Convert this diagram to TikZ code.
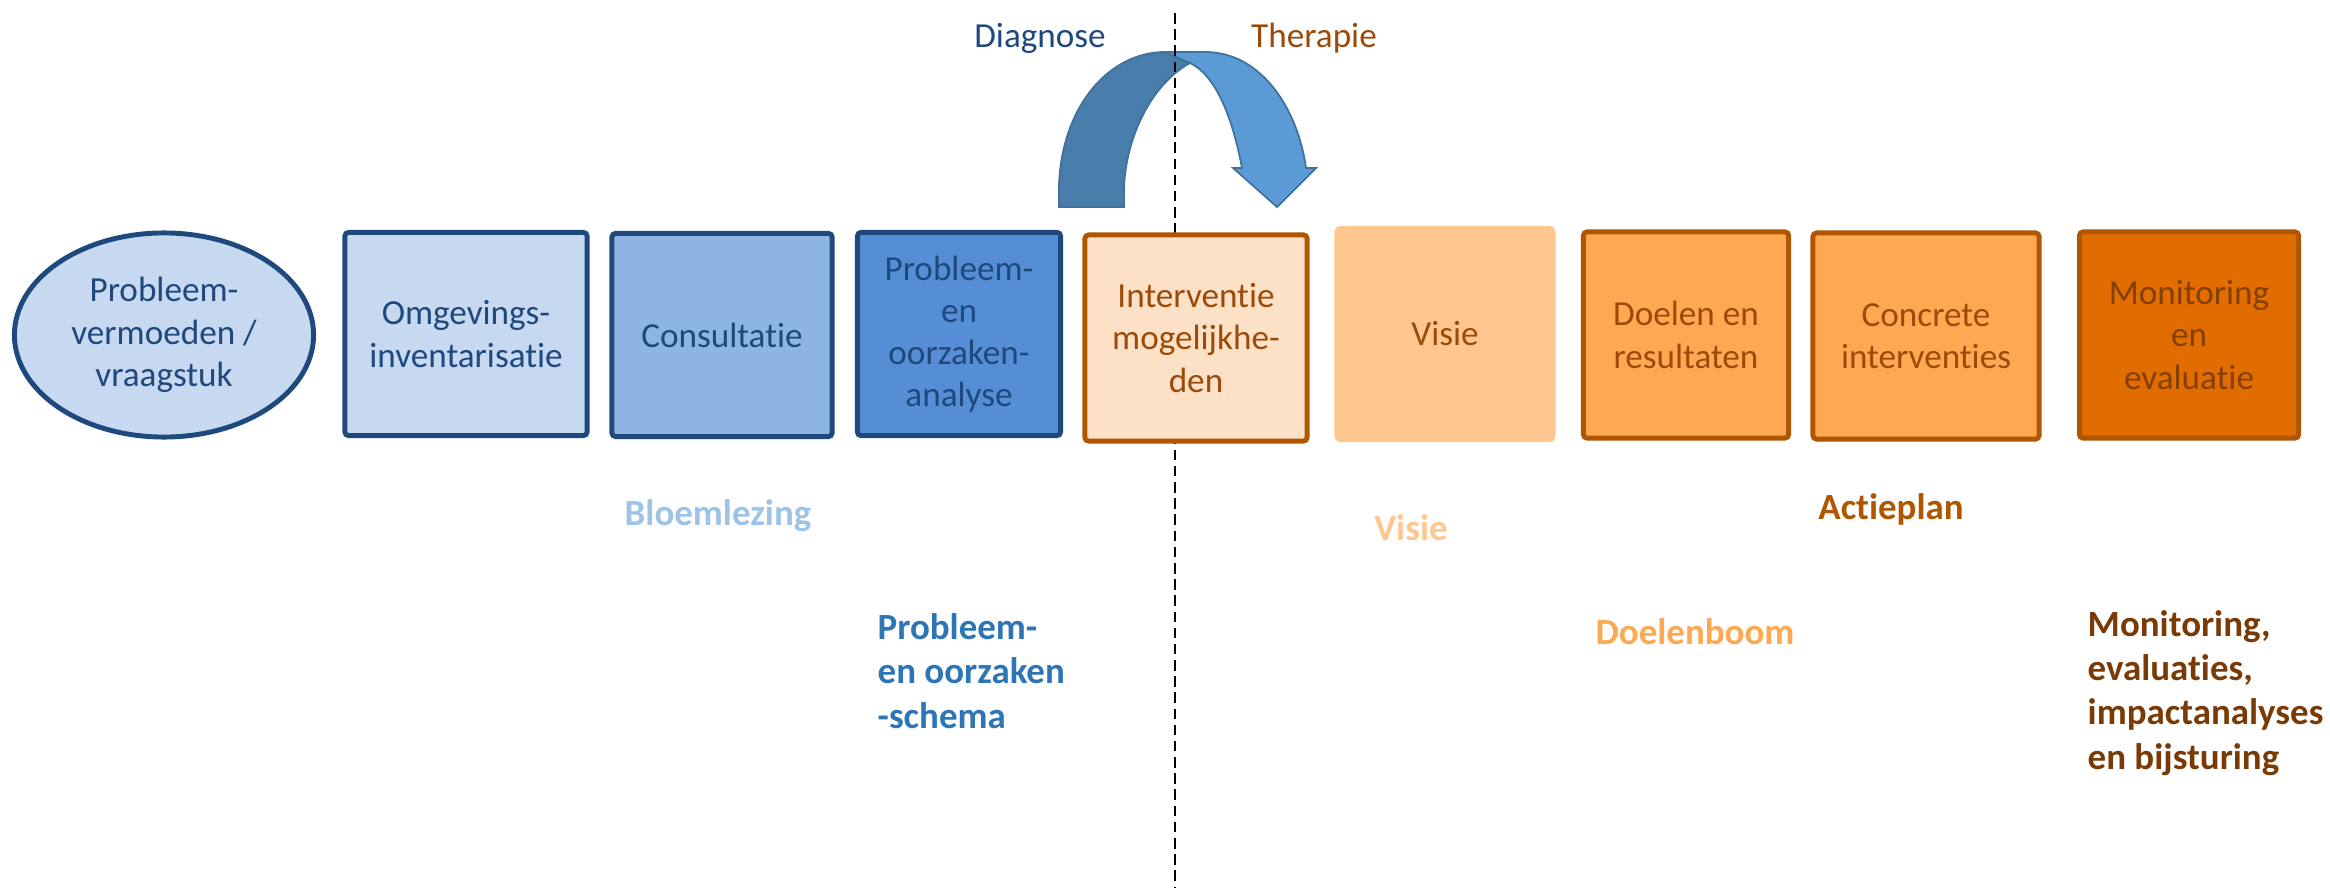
\documentclass[tikz,border=0pt]{standalone}
\usepackage{fontspec}
\setmainfont{Carlito}[Ligatures={NoCommon}]
\usepackage{tikz}
\usetikzlibrary{positioning,shapes.geometric}
\definecolor{palNavy}{HTML}{1F497D}
\definecolor{palBlueLt}{HTML}{C6D9F1}
\definecolor{palBlueMd}{HTML}{8EB4E3}
\definecolor{palBlue}{HTML}{558ED5}
\definecolor{palBlueTx}{HTML}{2E75B6}
\definecolor{palBlueSoft}{HTML}{9DC3E6}
\definecolor{palArrowDk}{HTML}{477CAB}
\definecolor{palArrowLt}{HTML}{5B9BD5}
\definecolor{palArrowLn}{HTML}{41719C}
\definecolor{palRust}{HTML}{B05600}
\definecolor{palBrown}{HTML}{9C4A0A}
\definecolor{palBrownDk}{HTML}{7A3A05}
\definecolor{palPeachLt}{HTML}{FDE1C6}
\definecolor{palPeach}{HTML}{FFC78F}
\definecolor{palApricot}{HTML}{FFA852}
\definecolor{palOrange}{HTML}{E16D00}
\tikzset{
  stepblue/.style={draw=palNavy, line width=1.4pt, rounded corners=1pt,
                   minimum height=2.03cm, align=center, text=palNavy,
                   font=\fontsize{10}{12}\selectfont},
  steporange/.style={draw=palRust, line width=1.4pt, rounded corners=1pt,
                     minimum height=2.06cm, align=center, text=palBrown,
                     font=\fontsize{10}{12}\selectfont},
  outlabel/.style={font=\bfseries\fontsize{10.5}{12.6}\selectfont, inner sep=0pt},
  sidelabel/.style={font=\fontsize{10}{12}\selectfont, inner sep=0pt},
  divider/.style={dashed, dash pattern=on 3pt off 1.6pt, line width=0.6pt, black},
  bendarrow/.style={draw=palArrowLn, line width=0.5pt},
}
\begin{document}
\begin{tikzpicture}[x=0.01cm, y=-0.01cm]
\useasboundingbox (0,0) rectangle (2330,888);
%% Turn arrow
\filldraw[bendarrow, fill=palArrowDk] (1059,207) -- (1059,185)
  .. controls (1062,105) and (1110,52) .. (1165,52) -- (1190,63)
  .. controls (1150,85) and (1125,140) .. (1124,190) -- (1124,207) -- cycle;
\filldraw[bendarrow, fill=palArrowLt] (1165,52) -- (1205,52)
  .. controls (1262,52) and (1298,110) .. (1306,168) -- (1316,168)
  -- (1277,207) -- (1233,168) -- (1242,168)
  .. controls (1232,115) and (1215,75) .. (1190,63) -- cycle;
%% Divider
\coordinate (dT) at (1175,13);
\coordinate (dB) at (1175,888);
\draw[divider] (dT) -- (dB);
\node[sidelabel, text=palNavy]  (diag) at (1040,38) {Diagnose};
\node[sidelabel, text=palBrown] (ther) at (1314,38) {Therapie};
%% Steps
\node[stepblue, ellipse, fill=palBlueLt, minimum width=2.99cm, minimum height=2.04cm] (S1) at (164,335) {Probleem-\\vermoeden /\\vraagstuk};
\node[stepblue, fill=palBlueLt, minimum width=2.42cm]  (S2) at (466,334) {Omgevings-\\inventarisatie};
\node[stepblue, fill=palBlueMd, minimum width=2.20cm]  (S3) at (722,335) {Consultatie};
\node[stepblue, fill=palBlue, minimum width=2.03cm]    (S4) at (959,334) {Probleem-\\en\\oorzaken-\\analyse};
\node[steporange, fill=palPeachLt, minimum width=2.22cm] (S5) at (1196,338) {Interventie\\mogelijkhe-\\den};
\node[steporange, fill=palPeach, draw=palPeach, minimum width=2.16cm, minimum height=2.11cm] (S6) at (1445,334) {Visie};
\node[steporange, fill=palApricot, minimum width=2.05cm] (S7) at (1686,335) {Doelen en\\resultaten};
\node[steporange, fill=palApricot, minimum width=2.26cm] (S8) at (1926,336) {Concrete\\interventies};
\node[steporange, fill=palOrange, text=palBrownDk!90!palOrange, minimum width=2.19cm] (S9) at (2189,335) {Monitoring\\en\\evaluatie};
%% Outputs
\node[outlabel, text=palBlueSoft] (O1) at (718,516) {Bloemlezing};
\node[outlabel, text=palBlueTx, anchor=west, align=left] (O2) at (877,671) {Probleem-\\en oorzaken\\-schema};
\node[outlabel, text=palPeach]    (O3) at (1411,528) {Visie};
\node[outlabel, text=palApricot]  (O4) at (1695,632) {Doelenboom};
\node[outlabel, text=palRust]     (O5) at (1891,509) {Actieplan};
\node[outlabel, text=palBrownDk, anchor=west, align=left] (O6) at (2087,693) {Monitoring,\\evaluaties,\\impactanalyses\\en bijsturing};
\end{tikzpicture}
\end{document}
